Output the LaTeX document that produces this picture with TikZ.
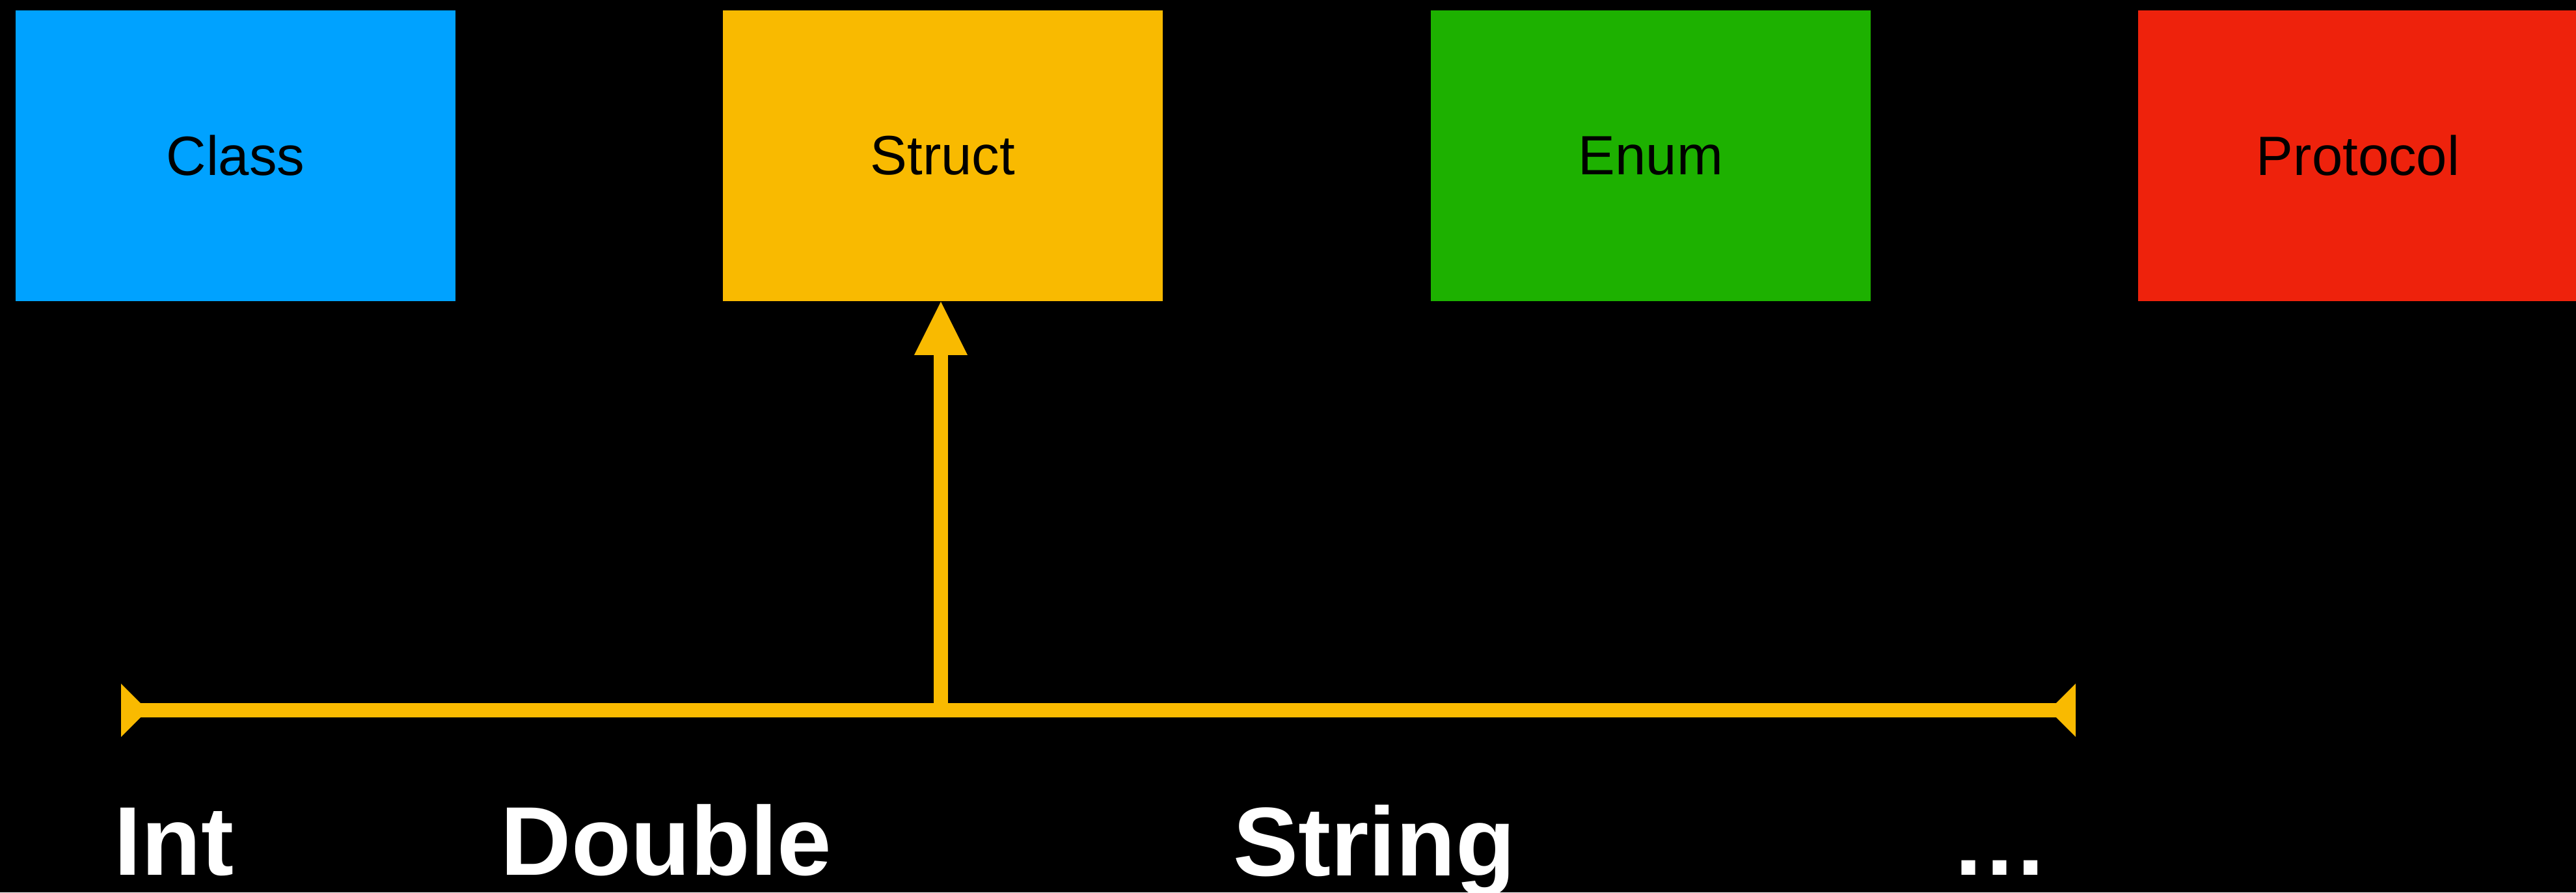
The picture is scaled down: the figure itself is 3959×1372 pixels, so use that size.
\documentclass[tikz,border=0pt]{standalone}
\usepackage{fontspec}
\setmainfont{Liberation Sans}
\usetikzlibrary{arrows.meta}
\definecolor{kblue}{HTML}{00A2FF}
\definecolor{kyellow}{HTML}{F9BA00}
\definecolor{kgreen}{HTML}{1DB100}
\definecolor{kred}{HTML}{EE220C}
\tikzset{
  typebox/.style={rectangle, inner sep=0pt, minimum width=6.76cm, minimum height=4.47cm,
    text=black, font=\fontsize{24.2pt}{29pt}\selectfont},
  biglabel/.style={anchor=base, inner sep=0pt, text=white,
    font=\fontsize{42.7pt}{50pt}\selectfont\bfseries},
  bar/.style={draw=kyellow, line width=0.215cm},
  uptip/.tip={Triangle[length=0.82cm, width=0.82cm, line width=0pt]}
}
\begin{document}
\begin{tikzpicture}[x=0.01cm, y=-0.01cm]
  \fill[black] (0,0) rectangle (3959,1372);
  \useasboundingbox (0,0) rectangle (3959,1372);

  \node[typebox, fill=kblue]   (class)    at (362,239.5)  {Class};
  \node[typebox, fill=kyellow] (struct)   at (1449,239.5) {Struct};
  \node[typebox, fill=kgreen]  (enum)     at (2537,239.5) {Enum};
  \node[typebox, fill=kred]    (protocol) at (3624,239.5) {Protocol};

  \coordinate (left)  at (186,1092);
  \coordinate (right) at (3190,1092);
  \coordinate (join)  at (1446,1092);

  \draw[bar] (left) -- (right);
  \fill[kyellow] (left) ++(0,-41) -- ++(41,41) -- ++(-41,41) -- cycle;
  \fill[kyellow] (right) ++(0,-41) -- ++(-41,41) -- ++(41,41) -- cycle;
  \draw[bar, -{uptip}] (join) -- (join |- struct.south);

  \node[biglabel] (int)    at (267.5,1345) {Int};
  \node[biglabel] (double) at (1024,1345)  {Double};
  \node[biglabel] (string) at (2112,1346)  {String};
  \node[biglabel] (more)   at (3073.5,1345) {…};
\end{tikzpicture}
\end{document}
